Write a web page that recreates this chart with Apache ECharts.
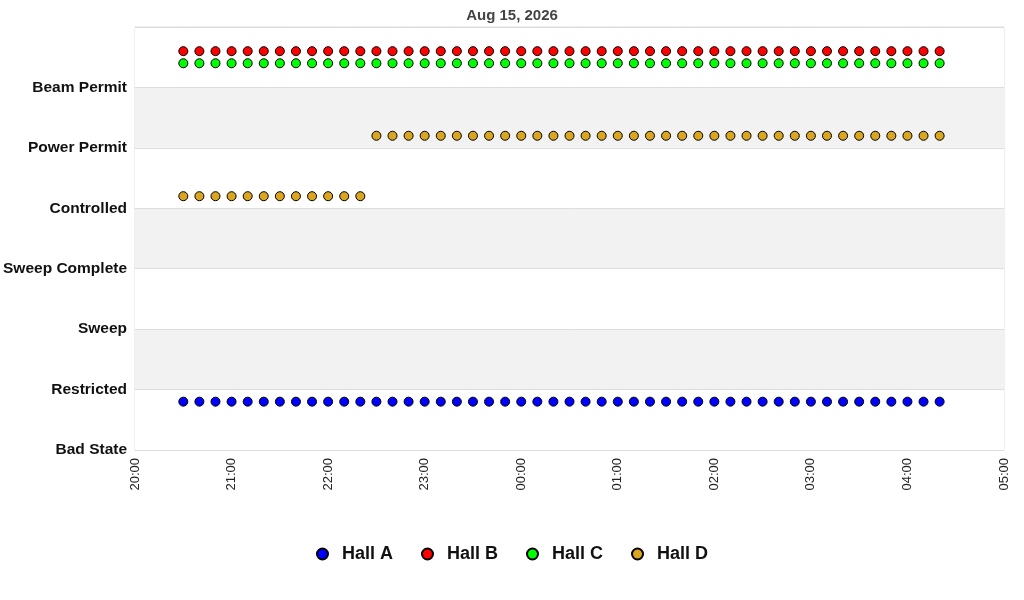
<!DOCTYPE html>
<html>
<head>
<meta charset="utf-8">
<script src="https://cdn.jsdelivr.net/npm/echarts@6/dist/echarts.min.js"></script>
<style>html,body{margin:0;padding:0;background:#fff}#c{width:1024px;height:600px}</style>
</head>
<body>
<div id="c"></div>
<script>
const title = "Aug 15, 2026";
const stateLabels = ["Bad State","Restricted","Sweep","Sweep Complete","Controlled","Power Permit","Beam Permit"];
const xTickLabels = ["20:00","21:00","22:00","23:00","00:00","01:00","02:00","03:00","04:00","05:00"];
const times = ["20:30","20:40","20:50","21:00","21:10","21:20","21:30","21:40","21:50","22:00","22:10","22:20",
  "22:30","22:40","22:50","23:00","23:10","23:20","23:30","23:40","23:50","00:00","00:10","00:20",
  "00:30","00:40","00:50","01:00","01:10","01:20","01:30","01:40","01:50","02:00","02:10","02:20",
  "02:30","02:40","02:50","03:00","03:10","03:20","03:30","03:40","03:50","04:00","04:10","04:20"];
const hallA = [0.8,0.8,0.8,0.8,0.8,0.8,0.8,0.8,0.8,0.8,0.8,0.8,
  0.8,0.8,0.8,0.8,0.8,0.8,0.8,0.8,0.8,0.8,0.8,0.8,
  0.8,0.8,0.8,0.8,0.8,0.8,0.8,0.8,0.8,0.8,0.8,0.8,
  0.8,0.8,0.8,0.8,0.8,0.8,0.8,0.8,0.8,0.8,0.8,0.8];
const hallB = [6.6,6.6,6.6,6.6,6.6,6.6,6.6,6.6,6.6,6.6,6.6,6.6,
  6.6,6.6,6.6,6.6,6.6,6.6,6.6,6.6,6.6,6.6,6.6,6.6,
  6.6,6.6,6.6,6.6,6.6,6.6,6.6,6.6,6.6,6.6,6.6,6.6,
  6.6,6.6,6.6,6.6,6.6,6.6,6.6,6.6,6.6,6.6,6.6,6.6];
const hallC = [6.4,6.4,6.4,6.4,6.4,6.4,6.4,6.4,6.4,6.4,6.4,6.4,
  6.4,6.4,6.4,6.4,6.4,6.4,6.4,6.4,6.4,6.4,6.4,6.4,
  6.4,6.4,6.4,6.4,6.4,6.4,6.4,6.4,6.4,6.4,6.4,6.4,
  6.4,6.4,6.4,6.4,6.4,6.4,6.4,6.4,6.4,6.4,6.4,6.4];
const hallD = [4.2,4.2,4.2,4.2,4.2,4.2,4.2,4.2,4.2,4.2,4.2,4.2,
  5.2,5.2,5.2,5.2,5.2,5.2,5.2,5.2,5.2,5.2,5.2,5.2,
  5.2,5.2,5.2,5.2,5.2,5.2,5.2,5.2,5.2,5.2,5.2,5.2,
  5.2,5.2,5.2,5.2,5.2,5.2,5.2,5.2,5.2,5.2,5.2,5.2];
const seriesNames = ["Hall A","Hall B","Hall C","Hall D"];
const seriesColors = ["#0000ff","#ff0000","#00ff00","#daa520"];

function toMin(t){
  const p = t.split(":"); let m = (+p[0])*60 + (+p[1]) - 1200;
  if (m < 0) m += 1440; return m;
}
const xs = times.map(toMin);
const allValues = [hallA, hallB, hallC, hallD];
const font = "'Liberation Sans', Arial, sans-serif";

const chart = echarts.init(document.getElementById('c'));
chart.setOption({
  animation: false,
  backgroundColor: '#fff',
  title: { text: title, left: 'center', top: 3,
    textStyle: { fontFamily: font, fontSize: 15, fontWeight: 'bold', color: '#444' } },
  grid: { left: 135, right: 20, top: 27, bottom: 150, show: true, borderColor: '#dddddd', borderWidth: 1, backgroundColor: 'transparent' },
  legend: { bottom: 32, left: 'center', itemGap: 28, itemWidth: 11, itemHeight: 11,
    icon: 'circle',
    textStyle: { fontFamily: font, fontSize: 18, fontWeight: 'bold', color: '#111', padding: [0,0,0,9] },
    data: seriesNames },
  xAxis: { type: 'value', min: 0, max: 540, interval: 60,
    axisLine: { show: false }, axisTick: { show: false }, splitLine: { show: false },
    axisLabel: { rotate: 90, margin: 8, fontFamily: font, fontSize: 13, color: '#222',
      formatter: v => xTickLabels[Math.round(v/60)] } },
  yAxis: { type: 'value', min: 0, max: 7, interval: 1,
    axisLine: { show: false }, axisTick: { show: false },
    splitLine: { show: true, lineStyle: { color: '#dddddd', width: 1 } },
    splitArea: { show: true, areaStyle: { color: ['#ffffff', '#f2f2f2'] } },
    axisLabel: { margin: 8, fontFamily: font, fontSize: 15.5, fontWeight: 'bold', color: '#111',
      padding: [2, 0, 0, 0],
      formatter: v => stateLabels[Math.round(v)] || '' } },
  series: seriesNames.map((n, i) => ({
    name: n, type: 'scatter', symbol: 'circle', symbolSize: 9,
    itemStyle: { color: seriesColors[i], borderColor: '#000', borderWidth: 1, opacity: 1 },
    data: xs.map((x, j) => [x, allValues[i][j]])
  }))
});
</script>
</body>
</html>
